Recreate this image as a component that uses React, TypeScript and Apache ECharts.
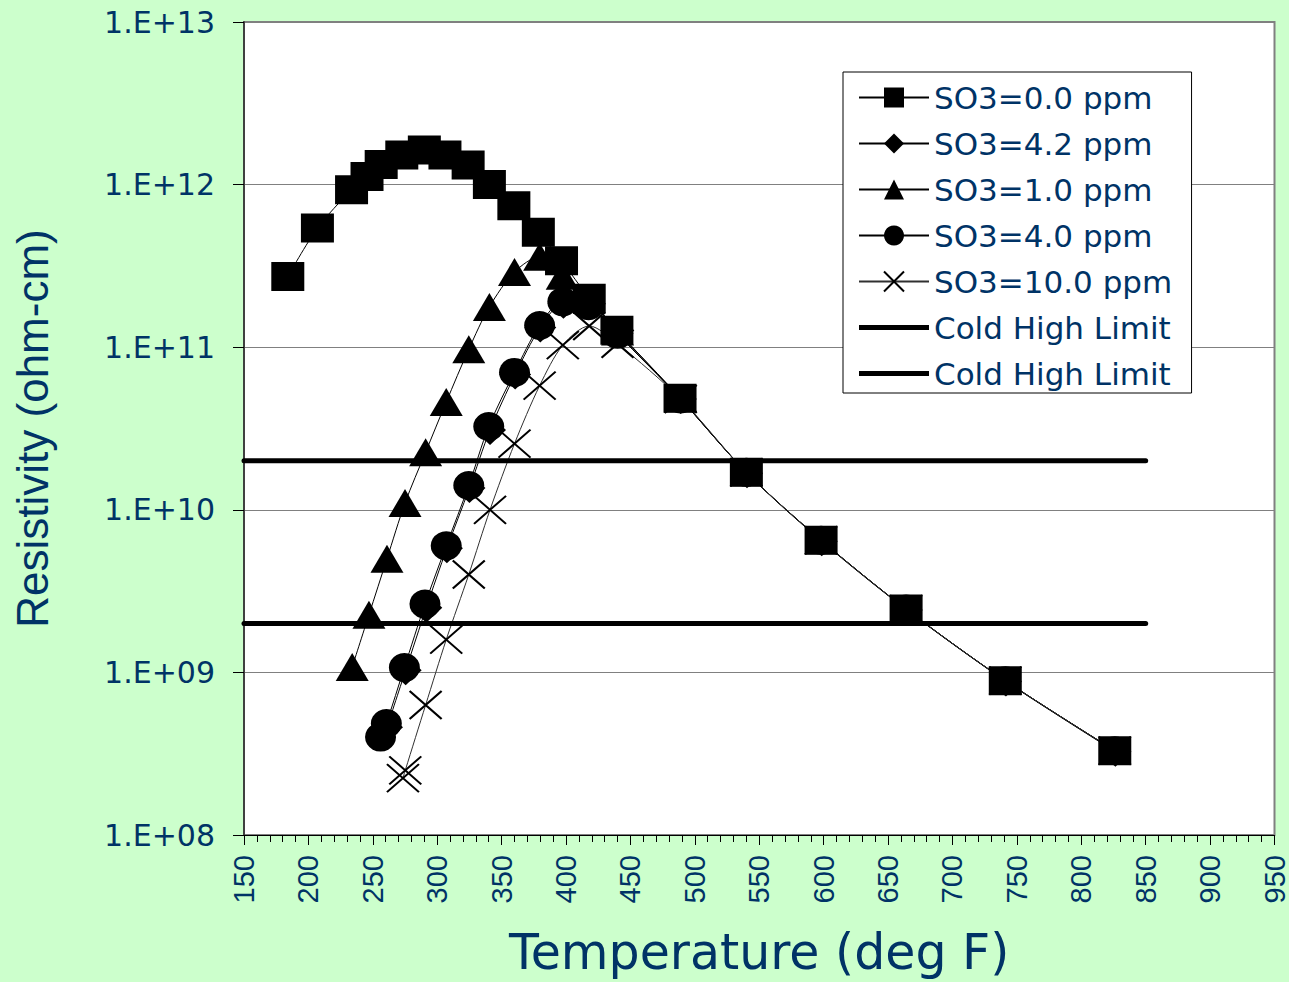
import React, { useEffect, useRef } from 'react';
import * as echarts from 'echarts';

// Temperature (deg F) / resistivity (ohm-cm) for each SO3 level
const so3_00_temp = [184, 207, 233.5, 245.5, 256.5, 272.5, 290, 306, 324, 340.5, 359.5, 378.5, 396.5, 418, 439.5, 488.5, 540, 598, 664, 741, 826];
const so3_00_res = [2.72e11, 5.4e11, 9.3e11, 1.12e12, 1.33e12, 1.52e12, 1.63e12, 1.52e12, 1.32e12, 1.0e12, 7.4e11, 5.1e11, 3.4e11, 2.0e11, 1.27e11, 4.85e10, 1.7e10, 6.5e9, 2.45e9, 8.9e8, 3.3e8];

const so3_42_temp = [261, 275.5, 291.5, 307.5, 325, 341, 360.5, 380, 398, 418.5, 440, 489, 540.5, 598.5, 664.5, 741.5, 826.5];
const so3_42_res = [4.6e8, 1.03e9, 2.5e9, 5.8e9, 1.36e10, 3.1e10, 6.8e10, 1.32e11, 1.85e11, 1.85e11, 1.22e11, 4.8e10, 1.68e10, 6.4e9, 2.42e9, 8.8e8, 3.25e8];

const so3_10_temp = [234, 247, 261, 275, 291, 307, 324.5, 340.5, 360, 379.5, 397, 418, 440, 489, 540, 598, 664, 741, 826];
const so3_10_res = [1.08e9, 2.26e9, 5.0e9, 1.1e10, 2.26e10, 4.6e10, 9.7e10, 1.77e11, 2.9e11, 3.6e11, 2.75e11, 1.95e11, 1.25e11, 4.85e10, 1.7e10, 6.5e9, 2.45e9, 8.9e8, 3.3e8];

const so3_40_temp = [256, 260.5, 274.5, 290.5, 307, 324.5, 340, 360, 379.5, 397.5, 417.5, 440, 489, 540, 598, 664, 741, 826];
const so3_40_res = [4.0e8, 4.85e8, 1.07e9, 2.63e9, 6.0e9, 1.41e10, 3.25e10, 7.0e10, 1.36e11, 1.9e11, 1.8e11, 1.2e11, 4.8e10, 1.7e10, 6.5e9, 2.45e9, 8.9e8, 3.3e8];

const so3_100_temp = [273.4, 275.2, 291, 307, 324.5, 341, 360, 379.5, 397.5, 418, 440, 489, 540, 598, 664, 741, 826];
const so3_100_res = [2.24e8, 2.5e8, 6.3e8, 1.59e9, 4.0e9, 1.0e10, 2.55e10, 5.8e10, 1.03e11, 1.35e11, 1.05e11, 4.8e10, 1.7e10, 6.5e9, 2.45e9, 8.9e8, 3.3e8];

const limitTemp = [150, 850];
const limitHigh = [2e10, 2e10];
const limitLow = [2e9, 2e9];

const seriesNames = ['SO3=0.0 ppm', 'SO3=4.2 ppm', 'SO3=1.0 ppm', 'SO3=4.0 ppm', 'SO3=10.0 ppm', 'Cold High Limit', 'Cold High Limit '];

const pairs = (xs: number[], ys: number[]) => xs.map((x, i) => [x, ys[i]]);

export default function App() {
  const ref = useRef<HTMLDivElement>(null);
  useEffect(() => {
    document.body.style.margin = '0';
    const chart = echarts.init(ref.current!, null, { renderer: 'svg' });
    const navy = '#003366';
    const markerSeries = (name: string, data: number[][], symbol: string, size: number[], extra: any = {}) => ({
      name,
      type: 'line',
      data,
      symbol,
      symbolSize: size,
      smooth: 0.3,
      lineStyle: { color: '#000', width: 1 },
      itemStyle: { color: '#000' },
      ...extra,
    });
    const limitSeries = (name: string, data: number[][]) => ({
      name,
      type: 'line',
      data,
      symbol: 'none',
      lineStyle: { color: '#000', width: 5, cap: 'round' },
      itemStyle: { color: '#000' },
      z: 4,
    });
    const option = {
      animation: false,
      backgroundColor: '#CCFFCC',
      grid: {
        left: 244, top: 22, width: 1035, height: 813,
        show: true, backgroundColor: '#fff', borderColor: '#808080', borderWidth: 2,
      },
      legend: {
        orient: 'vertical',
        left: 843,
        top: 72,
        padding: [10, 11, 4, 15],
        itemWidth: 70,
        itemHeight: 25,
        itemGap: 15,
        backgroundColor: '#fff',
        borderColor: '#000',
        borderWidth: 1,
        borderRadius: 0,
        selectedMode: false,
        textStyle: { fontFamily: 'DejaVu Sans', fontSize: 31, color: navy, lineHeight: 31 },
        data: [
          seriesNames[0], seriesNames[1], seriesNames[2], seriesNames[3], seriesNames[4],
          { name: seriesNames[5], icon: 'path://M0,0h70v5h-70z' },
          { name: seriesNames[6], icon: 'path://M0,0h70v5h-70z' },
        ],
      },
      xAxis: {
        type: 'value',
        min: 150,
        max: 950,
        interval: 50,
        name: 'Temperature (deg F)',
        nameLocation: 'middle',
        nameGap: 93,
        nameTextStyle: { fontFamily: 'DejaVu Sans', fontSize: 49, color: navy },
        axisLine: { lineStyle: { color: '#000', width: 1 } },
        axisTick: { length: 10, lineStyle: { color: '#000' } },
        minorTick: { show: true, splitNumber: 5, length: 7, lineStyle: { color: '#000' } },
        axisLabel: { rotate: 90, margin: 20, fontFamily: 'Liberation Sans', fontSize: 29, color: navy },
        splitLine: { show: false },
      },
      yAxis: {
        type: 'log',
        logBase: 10,
        min: 1e8,
        max: 1e13,
        name: 'Resistivity (ohm-cm)',
        nameLocation: 'middle',
        nameRotate: 90,
        nameGap: 190,
        nameTextStyle: { fontFamily: 'Liberation Sans', fontSize: 44, color: navy },
        axisLine: { show: true, lineStyle: { color: '#404040', width: 2 } },
        axisTick: { show: true, length: 11, lineStyle: { color: '#000' } },
        axisLabel: {
          margin: 29,
          fontFamily: 'DejaVu Sans',
          fontSize: 30,
          color: navy,
          formatter: (v: number) => {
            const e = Math.round(Math.log10(v));
            return '1.E+' + (e < 10 ? '0' : '') + e;
          },
        },
        splitLine: { show: true, lineStyle: { color: '#808080', width: 1 } },
      },
      series: [
        markerSeries(seriesNames[0], pairs(so3_00_temp, so3_00_res), 'rect', [33, 29], { z: 3 }),
        markerSeries(seriesNames[1], pairs(so3_42_temp, so3_42_res), 'diamond', [32, 30]),
        markerSeries(seriesNames[2], pairs(so3_10_temp, so3_10_res), 'triangle', [33, 28]),
        markerSeries(seriesNames[3], pairs(so3_40_temp, so3_40_res), 'circle', [31, 29]),
        markerSeries(seriesNames[4], pairs(so3_100_temp, so3_100_res), 'path://M0,0L10,10M10,0L0,10', [32, 28], {
          lineStyle: { color: '#303030', width: 1 },
          itemStyle: { color: 'transparent', borderColor: '#000', borderWidth: 2 },
        }),
        limitSeries(seriesNames[5], pairs(limitTemp, limitHigh)),
        limitSeries(seriesNames[6], pairs(limitTemp, limitLow)),
      ],
    };
    chart.setOption(option as any);
    return () => chart.dispose();
  }, []);
  return <div ref={ref} style={{ width: 1289, height: 982 }} />;
}
